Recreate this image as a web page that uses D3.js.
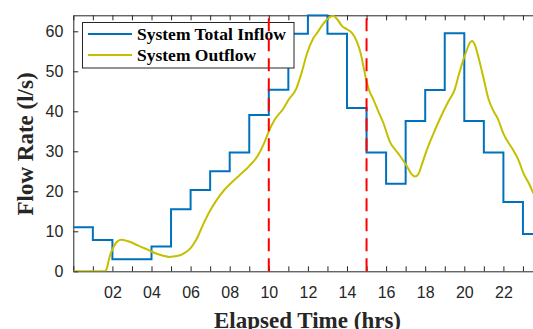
<!DOCTYPE html>
<html>
<head>
<meta charset="utf-8">
<script src="https://cdn.jsdelivr.net/npm/d3@7"></script>
<style>
  html, body { margin: 0; padding: 0; background: #fff; overflow: hidden; }
  svg { display: block; }
</style>
</head>
<body>
<div id="chart"></div>
<script>
// hourly inflow steps (l/s), hour 0..23
const inflowHours = d3.range(0, 25);
const inflowValues = [11, 7.8, 3, 3, 6.2, 15.5, 20.3, 25, 29.7, 39.1, 45.4, 59.4, 64, 59.4, 40.8, 29.7, 21.9, 37.6, 45.3, 59.5, 37.6, 29.7, 17.3, 9.3, 9.3];

// outflow curve
const outflowHours = [0, 1.6, 1.7, 1.8, 1.9, 2.0, 2.2, 2.45, 2.8, 3.3, 3.8, 4.2, 4.6, 4.9, 5.3, 5.7, 6.0, 6.3, 6.65, 7.0, 7.33, 7.7, 8.1, 8.5, 9.0, 9.45, 9.8, 10.0, 10.3, 10.75, 11.0, 11.4, 11.7, 11.95, 12.27, 12.5, 12.8, 13.1, 13.3, 13.5, 13.75, 14.0, 14.25, 14.5, 14.7, 14.85, 15.0, 15.15, 15.3, 15.6, 15.85, 16.2, 16.6, 17.05, 17.3, 17.48, 17.65, 17.85, 18.08, 18.42, 18.76, 19.19, 19.5, 19.78, 20.12, 20.3, 20.4, 20.55, 20.75, 20.97, 21.23, 21.5, 21.7, 22.0, 22.5, 22.8, 23.0, 23.3, 23.51, 24];
const outflowValues = [0, 0, 0.5, 2.5, 4.3, 5.5, 7.2, 7.9, 7.5, 6.5, 5.4, 4.5, 3.9, 3.6, 3.8, 4.6, 5.8, 8.0, 11.8, 15.2, 17.8, 20.2, 22.2, 24.0, 26.3, 29.0, 32.5, 35, 37.9, 40.7, 42.8, 45.6, 50, 54.4, 58.2, 59.8, 62, 63.5, 63.8, 63, 61.3, 60.5, 59.6, 57.5, 54.5, 51, 47.5, 45, 43.5, 40, 37.2, 32.3, 29.6, 26.4, 24.3, 23.7, 24.3, 27, 30.3, 34.4, 38.2, 42.5, 45.3, 50.2, 55.2, 57.3, 57.6, 56.5, 53, 48.6, 43.2, 40, 38.3, 34.4, 30.3, 27.5, 24.8, 22, 19.8, 15];

const markerHours = [10, 15];
const xTicks = d3.range(0, 25);
const yTicks = [0, 10, 20, 30, 40, 50, 60];
const seriesNames = ['System Total Inflow', 'System Outflow'];
const seriesColors = ['#0072bd', '#c4c000'];

const W = 533, H = 329;
const margin = { left: 73.3, top: 15.3, bottom: 271.3 };
const right = margin.left + 19.55 * 24;

const svg = d3.select('#chart').append('svg')
  .attr('width', W).attr('height', H);

const x = d3.scaleLinear().domain([0, 24]).range([margin.left, right]);
const y = d3.scaleLinear().domain([0, 64]).range([margin.bottom, margin.top]);

svg.append('defs').append('clipPath').attr('id', 'plot')
  .append('rect')
  .attr('x', margin.left).attr('y', margin.top - 1)
  .attr('width', right - margin.left).attr('height', margin.bottom - margin.top + 1);

// axes (ticks point inward)
const axisColor = '#262626';
const tickFont = '"Liberation Sans", Arial, sans-serif';

const gx = svg.append('g')
  .attr('transform', `translate(0,${margin.bottom})`)
  .call(d3.axisBottom(x).tickValues(xTicks).tickSizeInner(-5).tickSizeOuter(0).tickPadding(15)
    .tickFormat(d => (d % 2 === 0 && d > 0 && d < 24) ? d3.format('02d')(d) : ''));
const gxTop = svg.append('g')
  .attr('transform', `translate(0,${margin.top})`)
  .call(d3.axisTop(x).tickValues(xTicks).tickSizeInner(-5).tickSizeOuter(0).tickFormat(''));
const gy = svg.append('g')
  .attr('transform', `translate(${margin.left},0)`)
  .call(d3.axisLeft(y).tickValues(yTicks).tickSizeInner(-5).tickSizeOuter(0).tickPadding(10));

[gx, gxTop, gy].forEach(g => {
  g.select('.domain').attr('stroke', axisColor).attr('stroke-width', 1);
  g.selectAll('.tick line').attr('stroke', axisColor);
  g.selectAll('text').attr('fill', axisColor).style('font-family', tickFont).style('font-size', '16px');
});

const lines = svg.append('g').attr('clip-path', 'url(#plot)');

// inflow steps
lines.append('path')
  .datum(inflowHours.map((h, i) => [h, inflowValues[i]]))
  .attr('fill', 'none')
  .attr('stroke', seriesColors[0])
  .attr('stroke-width', 2)
  .attr('d', d3.line().x(d => x(d[0])).y(d => y(d[1])).curve(d3.curveStepAfter));

// outflow
lines.append('path')
  .datum(outflowHours.map((h, i) => [h, outflowValues[i]]))
  .attr('fill', 'none')
  .attr('stroke', seriesColors[1])
  .attr('stroke-width', 2)
  .attr('d', d3.line().x(d => x(d[0])).y(d => y(d[1])).curve(d3.curveMonotoneX));

// legend
const serif = '"Liberation Serif", "Times New Roman", serif';
const legend = svg.append('g');
legend.append('rect')
  .attr('x', 82.5).attr('y', 22.5).attr('width', 211.5).attr('height', 45.5)
  .attr('fill', '#fff').attr('stroke', axisColor).attr('stroke-width', 1);
seriesNames.forEach((name, i) => {
  const ly = 34 + i * 21;
  legend.append('line')
    .attr('x1', 88).attr('x2', 132).attr('y1', ly).attr('y2', ly)
    .attr('stroke', seriesColors[i]).attr('stroke-width', 2);
  legend.append('text')
    .attr('x', 137).attr('y', ly + 6)
    .style('font-family', serif).style('font-weight', 'bold').style('font-size', '17.5px')
    .attr('fill', '#000')
    .text(name);
});

// dashed markers
svg.append('g').selectAll('line')
  .data(markerHours)
  .enter().append('line')
  .attr('x1', d => x(d)).attr('x2', d => x(d))
  .attr('y1', y(0)).attr('y2', y(64))
  .attr('stroke', '#ff0000').attr('stroke-width', 2)
  .attr('stroke-dasharray', '13,7');

// axis titles
svg.append('text')
  .attr('x', 307.5).attr('y', 327.5)
  .attr('text-anchor', 'middle')
  .style('font-family', serif).style('font-weight', 'bold').style('font-size', '23px')
  .attr('fill', axisColor)
  .text('Elapsed Time (hrs)');

svg.append('text')
  .attr('transform', 'translate(33,144) rotate(-90)')
  .attr('text-anchor', 'middle')
  .style('font-family', serif).style('font-weight', 'bold').style('font-size', '23px')
  .attr('fill', axisColor)
  .text('Flow Rate (l/s)');
</script>
</body>
</html>
